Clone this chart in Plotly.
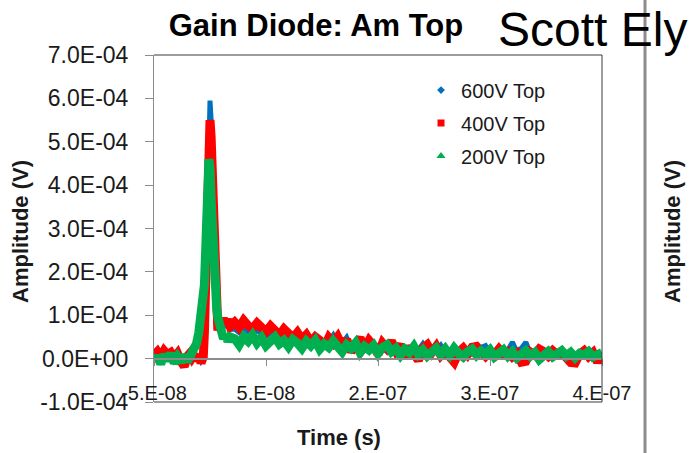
import plotly.graph_objects as go

# ---------------- data (time in ns, amplitude in units of 1e-5 V) ----------------
T_NS = [
    -50, -47, -44, -41, -38, -35, -32, -29, -26, -23, -20,
    -18, -16, -14, -12, -10, -8, -6, -5, -4, -3, -2, -1, 0, 1, 2, 3, 4, 5, 6, 7, 8, 10, 12, 14, 16, 18,
    22, 26, 30, 34, 38, 42, 46, 50, 54, 58, 62, 66, 70, 74, 78, 82, 86, 90, 94, 98,
    102, 106, 110, 114, 118, 122, 126, 130, 134, 138, 142, 146, 150, 154, 158, 162, 166, 170, 174, 178,
    182, 186, 190, 194, 198, 202, 206, 210, 214, 218, 222, 226, 230, 234, 238, 242, 246, 250, 254, 258,
    262, 266, 270, 274, 278, 282, 286, 290, 294, 298, 302, 306, 310, 314, 318, 322, 326, 330, 334, 338,
    342, 346, 350,
]

V600_TOP = [
    0.4, 1.0, 0.0, 1.2, 0.5, 0.8, -0.2, 0.6, -0.4, -0.6, 0.2,
    0.6, 0.0, 0.8, 0.2, 0.4, -0.6, 0.2, 4, 15, 30, 44, 55, 59.5, 55, 46, 35, 23, 13, 8.5, 7.0, 7.8, 8.0, 8.4, 7.2, 8.2, 6.8,
    6.8, 6.0, 7.2, 6.2, 5.8, 6.6, 5.6, 5.2, 6.0, 5.0, 4.6, 5.4, 4.2, 4.6, 3.8, 4.4, 3.6, 4.0, 3.2, 3.8,
    3.0, 4.0, 5.4, 3.2, 3.6, 4.9, 2.6, 3.0, 2.2, 2.8, 2.0, 2.6, 1.8, 2.4, 1.6, 2.2, 1.4, 2.0, 1.2, 1.8,
    1.0, 2.0, 3.4, 1.6, 1.2, 2.0, 3.1, 1.4, 0.8, 1.6, 1.0, 1.4, 0.6, 1.2, 1.6, 2.6, 3.0, 1.2, 0.8, 1.4,
    1.0, 2.0, 3.8, 1.6, 2.4, 3.8, 1.2, 0.6, 1.4, 0.8, 1.2, 0.4, 1.0, 0.6, 1.2, 0.2, 0.8, 1.0, 0.4, 1.2,
    0.6, 0.8, 1.0,
]

V400_TOP = [
    0.8, 1.6, 0.4, 1.8, 0.9, 1.4, 0.2, 1.2, -0.6, -1.8, 0.6,
    1.2, 0.2, 1.0, -0.4, 0.6, -1.0, 0.4, 6, 18, 32, 44, 52, 55, 51, 43, 33, 22, 12, 7.5, 6.5, 7.2, 8.6, 9.2, 8.0, 9.0, 7.4,
    8.4, 7.2, 8.8, 7.6, 6.9, 8.2, 7.0, 6.2, 7.5, 6.4, 5.4, 6.8, 5.6, 4.8, 6.0, 4.4, 5.5, 3.8, 5.0, 4.2,
    2.6, 4.8, 3.6, 5.0, 2.8, 4.4, 1.6, 3.8, 4.8, 2.2, 4.2, 3.0, 1.0, 3.6, 2.4, 4.0, 1.8, 3.2, 0.4, 2.8,
    1.2, -0.4, 2.4, 3.2, 1.4, 2.8, 0.8, 2.0, 0.4, -0.8, 1.5, 2.4, 1.0, 2.6, 2.8, 1.4, 0.6, 1.8, 0.9, 2.2,
    1.0, 1.6, 0.4, 1.2, -0.8, -0.6, 1.5, 0.8, 2.2, 1.6, 0.6, 1.8, 0.9, 1.4, 0.2, -0.9, -1.0, 1.0, 1.8, 0.5,
    1.4, -0.8, 1.2,
]

V200_TOP = [
    -0.8, 0.6, -1.2, 0.9, -0.4, 1.2, -1.0, 0.4, -0.8, 0.8, -0.6,
    0.2, 1.0, 2.0, 3.5, 6.0, 9.5, 13.0, 17, 24, 32, 40, 46, 44, 37, 29, 21, 16, 13.5, 11.5, 9.5, 8.0, 6.0, 4.6, 5.4, 4.0, 5.0,
    4.6, 3.2, 5.0, 4.0, 5.4, 3.6, 4.8, 3.0, 4.4, 5.0, 3.4, 4.2, 2.8, 4.4, 3.6, 2.4, 4.0, 3.0, 4.2, 2.2,
    3.4, 2.6, 4.0, 2.8, 1.6, 3.2, 2.4, 3.6, 1.4, 2.8, 2.0, 3.0, 1.2, 2.6, 3.2, 1.6, 2.4, 0.8, 2.2, 1.4,
    2.8, 1.0, 2.0, 0.6, 1.8, 2.4, 1.0, 2.2, 0.8, 2.4, 1.2, 0.4, 1.6, 2.2, 0.8, 1.8, 1.0, 2.0, 0.4, 1.4,
    2.0, 0.6, 1.6, 0.2, 1.2, 1.8, 0.6, 1.4, -0.2, 1.0, 1.6, 0.4, 1.2, 1.8, 0.6, 1.4, 0.2, 1.2, 0.8, 1.6,
    0.4, 1.0, 1.4,
]

SERIES_NAMES = ["600V Top", "400V Top", "200V Top"]
SERIES_VALUES = [V600_TOP, V400_TOP, V200_TOP]

X_TICKVALS = [-5e-8, 5e-8, 1.5e-7, 2.5e-7, 3.5e-7]
X_TICKTEXT = ["-5.E-08", "5.E-08", "2.E-07", "3.E-07", "4.E-07"]
Y_TICKVALS = [-1e-4, 0, 1e-4, 2e-4, 3e-4, 4e-4, 5e-4, 6e-4, 7e-4]
Y_TICKTEXT = ["-1.0E-04", "0.0E+00", "1.0E-04", "2.0E-04", "3.0E-04",
              "4.0E-04", "5.0E-04", "6.0E-04", "7.0E-04"]

# ---------------- styling ----------------
COLORS = ["#0070C0", "#FF0000", "#00B050"]
LINE_W = [5, 9, 9]
SYMBOLS = ["diamond", "square", "triangle-up"]
SYM_SIZE = [6, 7, 8]
FONT = "Liberation Sans"
TXT = "#1a1a1a"
AXC = "#8c8c8c"

t_sec = [v * 1e-9 for v in T_NS]

fig = go.Figure()
for name, vals, c, w, s, ss in zip(SERIES_NAMES, SERIES_VALUES, COLORS, LINE_W, SYMBOLS, SYM_SIZE):
    fig.add_trace(go.Scatter(
        x=t_sec, y=[v * 1e-5 for v in vals], mode="lines",
        line=dict(color=c, width=w, shape="linear"),
        legendgroup=name, showlegend=False, hoverinfo="skip"))
    fig.add_trace(go.Scatter(
        x=[None], y=[None], mode="markers", name=name, legendgroup=name,
        marker=dict(color=c, symbol=s, size=ss)))

fig.update_layout(
    template="none",
    width=690, height=453, autosize=False,
    margin=dict(l=154, r=88, t=55, b=51, pad=0),
    paper_bgcolor="white", plot_bgcolor="white",
    font=dict(family=FONT, color=TXT),
    showlegend=True,
    legend=dict(x=0.596, y=0.955, xanchor="left", yanchor="top",
                font=dict(size=20, color=TXT), bgcolor="rgba(0,0,0,0)",
                traceorder="grouped", tracegroupgap=4, borderwidth=0),
    title=dict(text="Gain Diode: Am Top", x=316 / 690, y=1 - 25.5 / 453,
               xref="container", yref="container", xanchor="center", yanchor="middle",
               font=dict(size=31, weight="bold", color="black", family=FONT)),
    xaxis=dict(range=[-5e-8, 3.5e-7], anchor="free", position=0.125,
               tickvals=X_TICKVALS, ticktext=X_TICKTEXT,
               showline=True, linecolor=AXC, linewidth=1.5,
               ticks="outside", ticklen=7, tickcolor=AXC, tickwidth=1,
               tickfont=dict(size=20, color=TXT), ticklabelstandoff=10,
               showgrid=False, zeroline=False, automargin=False),
    yaxis=dict(range=[-1e-4, 7e-4], tickvals=Y_TICKVALS, ticktext=Y_TICKTEXT,
               showline=True, linecolor=AXC, linewidth=1,
               ticks="outside", ticklen=8, tickcolor=AXC, tickwidth=1,
               tickfont=dict(size=23, color=TXT), ticklabelstandoff=12,
               showgrid=False, zeroline=False, automargin=False),
    shapes=[
        dict(type="path", xref="paper", yref="paper",
             path="M 0,1 L 1,1 L 1,0 L 0,0", line=dict(color="#3a3a3a", width=1), layer="above"),
        dict(type="line", xref="paper", yref="paper",
             x0=491 / 448, x1=491 / 448, y0=(402 - 453) / 347, y1=402 / 347,
             line=dict(color="#8c8c8c", width=3)),
    ],
    annotations=[
        dict(text="Scott Ely", xref="paper", yref="paper", x=438.5 / 448, y=(402 - 29) / 347,
             xanchor="center", yanchor="middle", showarrow=False,
             font=dict(size=48, color="black", family=FONT)),
        dict(text="Amplitude (V)", xref="paper", yref="paper", x=-134 / 448, y=170 / 347,
             xanchor="center", yanchor="middle", textangle=-90, showarrow=False,
             font=dict(size=22, weight="bold", color=TXT, family=FONT)),
        dict(text="Amplitude (V)", xref="paper", yref="paper", x=518 / 448, y=170 / 347,
             xanchor="center", yanchor="middle", textangle=-90, showarrow=False,
             font=dict(size=22, weight="bold", color=TXT, family=FONT)),
        dict(text="Time (s)", xref="paper", yref="paper", x=184.5 / 448, y=(402 - 437.4) / 347,
             xanchor="center", yanchor="middle", showarrow=False,
             font=dict(size=22, weight="bold", color=TXT, family=FONT)),
    ],
)

fig.write_html("out.html")
